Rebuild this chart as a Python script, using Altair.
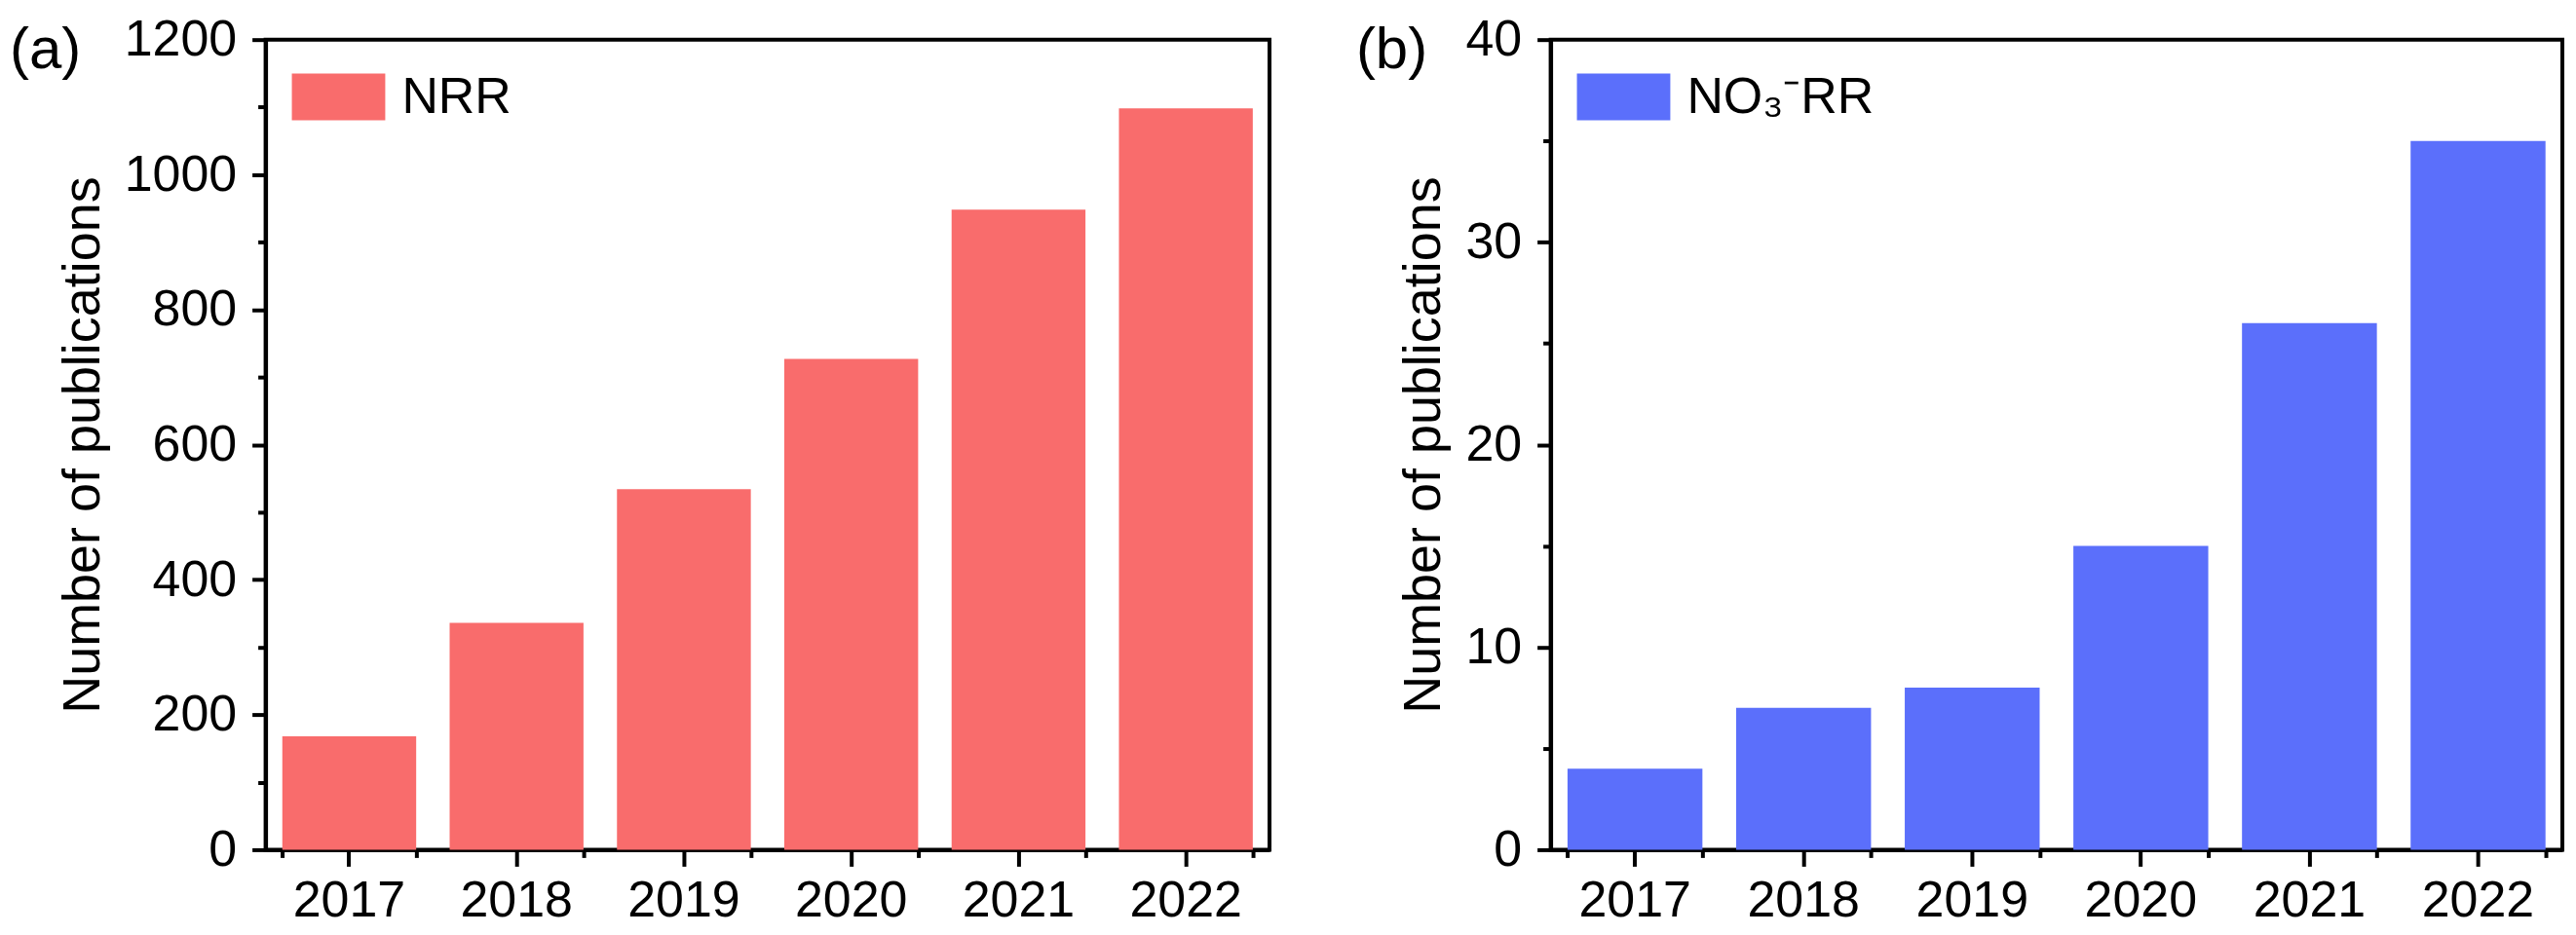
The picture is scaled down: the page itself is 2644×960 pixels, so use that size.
import altair as alt
import pandas as pd

# ---- data ----
years = ["2017", "2018", "2019", "2020", "2021", "2022"]
nrr_counts = [168, 336, 534, 727, 948, 1098]
no3rr_counts = [4, 7, 8, 15, 26, 35]

nrr_ticks = [0, 200, 400, 600, 800, 1000, 1200]
nrr_minor = [100, 300, 500, 700, 900, 1100]
no3rr_ticks = [0, 10, 20, 30, 40]
no3rr_minor = [5, 15, 25, 35]

FONT = "Liberation Sans"
RED = "#F96C6C"
BLUE = "#5B6FFB"
RECT = "M-1,-0.5H1V0.5H-1Z"


def panel(values, series, color, ymax, ticks, minor, label, ldx, ldy, width, height):
    df = pd.DataFrame({"year": years, "count": values, "series": [series] * len(years)})
    xs = alt.Scale(paddingInner=0.2, paddingOuter=0.1)
    ys = alt.Scale(domain=[0, ymax], nice=False)
    base = alt.Chart(df)
    bars = base.mark_bar().encode(
        x=alt.X("year:O", scale=xs, sort=years,
                axis=alt.Axis(orient="bottom", title=None, labelAngle=0, tickSize=17,
                              labelPadding=10)),
        y=alt.Y("count:Q", scale=ys,
                axis=alt.Axis(orient="left", title="Number of publications", values=ticks,
                              format="d", tickSize=14, labelPadding=16, titlePadding=15)),
        color=alt.Color("series:N", scale=alt.Scale(domain=[series], range=[color]),
                        legend=alt.Legend(title=None, orient="none", legendX=27, legendY=11,
                                          symbolType=RECT, symbolSize=9216, symbolStrokeWidth=0,
                                          labelOffset=17, labelLimit=0, padding=0)),
    )
    minor_layer = base.mark_bar(opacity=0).encode(
        x=alt.X("year:O", scale=xs, sort=years,
                axis=alt.Axis(orient="bottom", title=None, labels=False, domain=False,
                              tickSize=8, tickBand="extent")),
        y=alt.Y("count:Q", scale=ys,
                axis=alt.Axis(orient="left", title=None, labels=False, domain=False,
                              values=minor, tickSize=8)),
    )
    lab_df = pd.DataFrame({"t": [label]})
    lab = alt.Chart(lab_df).mark_text(font=FONT, fontSize=60, align="left", baseline="top",
                                      color="black").encode(
        text="t:N", x=alt.value(ldx), y=alt.value(ldy))
    return alt.layer(bars, minor_layer, lab).resolve_axis(
        x="independent", y="independent").properties(width=width, height=height)


pa = panel(nrr_counts, "NRR", RED, 1200, nrr_ticks, nrr_minor, "(a)", -263, -18, 1032, 833)
pb = panel(no3rr_counts, "NO₃⁻RR", BLUE, 40, no3rr_ticks, no3rr_minor, "(b)", -200, -18, 1040, 833)

chart = alt.hconcat(pa, pb, spacing=85).resolve_scale(color="independent").properties(
    padding={"left": 0, "top": 4, "right": 4, "bottom": 0}
).configure_axis(
    labelFont=FONT, titleFont=FONT, labelFontSize=52, titleFontSize=54,
    titleFontWeight="normal", labelColor="black", titleColor="black",
    domainColor="black", domainWidth=4, tickColor="black", tickWidth=4, grid=False,
).configure_view(stroke="black", strokeWidth=4).configure_legend(
    labelFont=FONT, labelFontSize=52, labelColor="black",
)

chart.save("out.html", embed_options={"renderer": "svg", "actions": False})
